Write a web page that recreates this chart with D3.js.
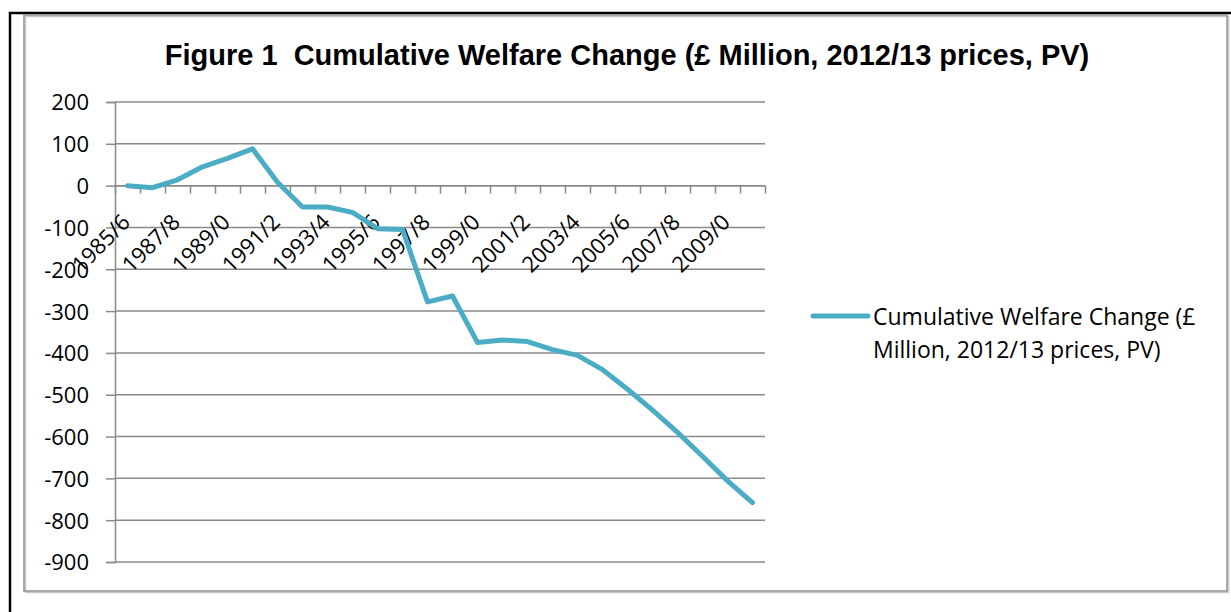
<!DOCTYPE html>
<html>
<head>
<meta charset="utf-8">
<script src="https://cdn.jsdelivr.net/npm/d3@7"></script>
<style>
  body { margin:0; background:#fff; }
  svg { display:block; }
</style>
</head>
<body>
<div id="chart"></div>
<script>
// categories (financial years, as labelled in the source)
let years = ['1985/6','1986/7','1987/8','1988/9','1989/0','1990/1','1991/2','1992/3','1993/4','1994/5',
             '1995/6','1996/7','1997/8','1998/9','1999/0','2000/1','2001/2','2002/3','2003/4','2004/5',
             '2005/6','2006/7','2007/8','2008/9','2009/0','2010/1']
// cumulative welfare change, £ million
let welfare = [0,-5,14,45,65,88,8,-51,-51,-64,-103,-105,-278,-264,-375,-369,-373,-392,-406,-440,
               -487,-537,-590,-647,-706,-758]
let yTicks = [200,100,0,-100,-200,-300,-400,-500,-600,-700,-800,-900]
let seriesName = 'Cumulative Welfare Change (£ Million, 2012/13 prices, PV)'
let legendLines = ['Cumulative Welfare Change (£','Million, 2012/13 prices, PV)']

let width = 1231, height = 612
let margin = { top:102, left:115, right:466, bottom:50 }
let innerWidth = width - margin.left - margin.right,
    innerHeight = 562 - margin.top
let lineColor = '#4BACC6', gridColor = '#8a8a8a'
let font = '"Open Sans", sans-serif'

let data = years.map((d,i) => ({ year:d, i:i, value:welfare[i] }))

let svg = d3.select('#chart').append('svg')
  .attr('width', width).attr('height', height)

// outer frame (black) and chart area border (grey)
svg.append('rect').attr('x',10).attr('y',13).attr('width',1300).attr('height',700)
  .attr('fill','none').attr('stroke','#000').attr('stroke-width',2.5)
svg.append('rect').attr('x',25.5).attr('y',16.5).attr('width',1203).attr('height',576)
  .attr('fill','none').attr('stroke','#c8c8c8').attr('stroke-width',1.5)
svg.append('rect').attr('x',24).attr('y',15).attr('width',1203).attr('height',576)
  .attr('fill','none').attr('stroke','#909090').attr('stroke-width',1.5)

let xScale = d3.scaleLinear().domain([0, years.length]).range([0, innerWidth])
let yScale = d3.scaleLinear().domain([-900, 200]).range([innerHeight, 0])

let g = svg.append('g').attr('transform', `translate(${margin.left},${margin.top})`)

// horizontal gridlines + y axis
let yAxis = d3.axisLeft(yScale).tickValues(yTicks).tickSize(9).tickFormat(d => d)
let yGroup = g.append('g').call(yAxis)
yGroup.select('.domain').attr('stroke', gridColor).attr('stroke-width',1.5)
yGroup.selectAll('.tick line').attr('stroke', gridColor).attr('stroke-width',1.5)
yGroup.selectAll('.tick text')
  .attr('x',-26).attr('dy','0.36em')
  .attr('font-family',font).attr('font-size',22).attr('fill','#000')

g.append('g').selectAll('line').data(yTicks).enter().append('line')
  .attr('x1',0).attr('x2',innerWidth)
  .attr('y1', d => yScale(d)).attr('y2', d => yScale(d))
  .attr('stroke', gridColor).attr('stroke-width',1.5)

// category axis crossing at zero
let xAxis = d3.axisBottom(xScale).tickValues(d3.range(years.length+1)).tickSize(8).tickFormat('')
let xGroup = g.append('g').call(xAxis).attr('transform',`translate(0,${yScale(0)})`)
xGroup.select('.domain').remove()
xGroup.selectAll('.tick line').attr('stroke', gridColor).attr('stroke-width',1.5)
g.append('line').attr('x1',0).attr('x2',innerWidth)
  .attr('y1',yScale(0)).attr('y2',yScale(0))
  .attr('stroke',gridColor).attr('stroke-width',1.5)

g.append('g').selectAll('text').data(data.filter(d => d.i % 2 == 0)).enter().append('text')
  .attr('transform', d => `translate(${xScale(d.i+0.5)+4},${yScale(0)+38}) rotate(-45)`)
  .attr('text-anchor','end')
  .attr('font-family',font).attr('font-size',22).attr('fill','#000')
  .text(d => d.year)

// the series
let line = d3.line().x(d => xScale(d.i+0.5)).y(d => yScale(d.value))
g.append('path').attr('d', line(data))
  .attr('fill','none').attr('stroke',lineColor).attr('stroke-width',5)
  .attr('stroke-linejoin','round').attr('stroke-linecap','round')

// title
svg.append('text').attr('x',627).attr('y',65)
  .attr('text-anchor','middle').style('white-space','pre')
  .attr('font-family','"Liberation Sans", Arial, sans-serif').attr('font-weight','bold')
  .attr('font-size',29).attr('fill','#000')
  .text('Figure 1  ' + seriesName)

// legend
let legend = svg.append('g').attr('transform','translate(813,316)')
legend.append('line').attr('x1',0).attr('x2',55).attr('y1',0).attr('y2',0)
  .attr('stroke',lineColor).attr('stroke-width',5).attr('stroke-linecap','round')
legend.selectAll('text').data(legendLines).enter().append('text')
  .attr('x',60).attr('y',(d,i) => 9 + i*33)
  .attr('font-family',font).attr('font-size',23).attr('fill','#000')
  .text(d => d)
</script>
</body>
</html>
